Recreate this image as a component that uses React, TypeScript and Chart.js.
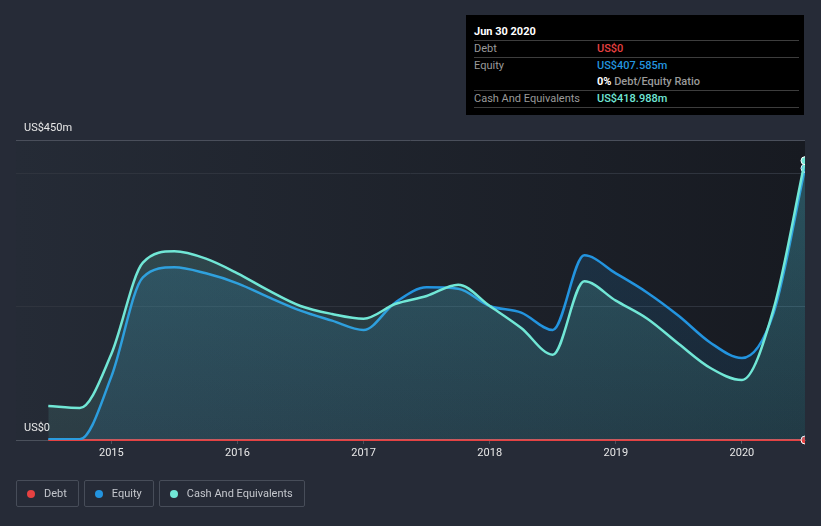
import React, { useEffect, useRef } from 'react';
import { Chart, registerables } from 'chart.js';

Chart.register(...registerables);

// ---- data ----
const dates = [
  2014.5, 2014.75, 2015.0, 2015.25, 2015.5, 2015.75, 2016.0, 2016.25, 2016.5,
  2016.75, 2017.0, 2017.25, 2017.5, 2017.75, 2018.0, 2018.25, 2018.5, 2018.75,
  2019.0, 2019.25, 2019.5, 2019.75, 2020.0, 2020.25, 2020.5,
];
const debt = [0, 0, 0, 0, 0, 0, 0, 0, 0, 0, 0, 0, 0, 0, 0, 0, 0, 0, 0, 0, 0, 0, 0, 0, 0];
const equity = [
  1, 1, 95, 244, 259, 250, 235, 214, 194, 179, 165, 206, 229, 227, 201, 191, 165,
  277, 250, 221, 186, 146, 123, 190, 407.585,
];
const cash = [
  51, 48, 129, 266, 283, 272, 250, 224, 201, 189, 182, 204, 216, 233, 201, 168, 128,
  238, 209, 182, 144, 108, 90, 196, 418.988,
];
const xTickYears = [2015, 2016, 2017, 2018, 2019, 2020];
const yGridValues = [0, 200, 400, 450];
const yLabelValues = [0, 450];
const yLabelTexts = ['US$0', 'US$450m'];
const seriesNames = ['Debt', 'Equity', 'Cash And Equivalents'];
const seriesColors = ['#e64141', '#2394df', '#71e7d6'];
const tooltipTitle = 'Jun 30 2020';
const tooltipValues = ['US$0', 'US$407.585m', 'US$418.988m'];
const ratioValue = '0%';
const ratioText = 'Debt/Equity Ratio';

const FONT = 'Roboto, "Noto Sans", sans-serif';

const toPoints = (vals: number[]) => vals.map((v, i) => ({ x: dates[i], y: v }));

const plotBg = {
  id: 'plotBg',
  beforeDraw(chart: any) {
    const { ctx, chartArea } = chart;
    if (!chartArea) return;
    const g = ctx.createLinearGradient(chartArea.left, 0, chartArea.right, 0);
    g.addColorStop(0, '#252b36');
    g.addColorStop(1, '#171a21');
    ctx.save();
    ctx.fillStyle = g;
    ctx.fillRect(chartArea.left, chartArea.top, chartArea.right - chartArea.left, chartArea.bottom - chartArea.top);
    ctx.restore();
  },
};

function fillGrad(rgb: string, aTop: number, aBottom: number) {
  return (c: any) => {
    const area = c.chart.chartArea;
    if (!area) return `rgba(${rgb},${aTop})`;
    const g = c.chart.ctx.createLinearGradient(0, area.top, 0, area.bottom);
    g.addColorStop(0, `rgba(${rgb},${aTop})`);
    g.addColorStop(1, `rgba(${rgb},${aBottom})`);
    return g;
  };
}

const lastOnly = (r: number) => (c: any) => (c.dataIndex === dates.length - 1 ? r : 0);

export default function App() {
  const ref = useRef<HTMLCanvasElement>(null);

  useEffect(() => {
    if (!ref.current) return;
    const chart = new Chart(ref.current, {
      type: 'line',
      data: {
        datasets: [
          {
            label: seriesNames[2],
            data: toPoints(cash),
            borderColor: seriesColors[2],
            backgroundColor: fillGrad('113,231,214', 0.2, 0.1),
            fill: 'origin',
            borderWidth: 2.5,
            cubicInterpolationMode: 'monotone',
            pointRadius: lastOnly(4),
            pointBackgroundColor: seriesColors[2],
            pointBorderColor: '#ffffff',
            pointBorderWidth: 1,
            order: 1,
          },
          {
            label: seriesNames[1],
            data: toPoints(equity),
            borderColor: seriesColors[1],
            backgroundColor: fillGrad('35,148,223', 0.18, 0.1),
            fill: 'origin',
            borderWidth: 2.5,
            cubicInterpolationMode: 'monotone',
            pointRadius: lastOnly(4),
            pointBackgroundColor: seriesColors[1],
            pointBorderColor: '#ffffff',
            pointBorderWidth: 1,
            order: 2,
          },
          {
            label: seriesNames[0],
            data: toPoints(debt),
            borderColor: seriesColors[0],
            backgroundColor: seriesColors[0],
            fill: false,
            borderWidth: 2,
            pointRadius: lastOnly(4),
            pointBackgroundColor: seriesColors[0],
            pointBorderColor: '#ffffff',
            pointBorderWidth: 1,
            clip: { left: 0, top: 0, right: 0, bottom: 6 },
            order: 3,
          },
        ],
      },
      options: {
        animation: false,
        responsive: false,
        events: [],
        layout: { padding: { left: 16, right: 16, top: 140, bottom: 56 } },
        plugins: { legend: { display: false }, tooltip: { enabled: false } },
        scales: {
          x: {
            type: 'linear',
            min: 2014.244,
            max: 2020.5,
            afterBuildTicks: (s: any) => {
              s.ticks = xTickYears.map((v) => ({ value: v }));
            },
            afterFit: (s: any) => {
              s.height = 30;
            },
            ticks: {
              color: '#e8e8e8',
              font: { family: FONT, size: 11 },
              padding: 3,
              callback: (v: any) => String(v),
              maxRotation: 0,
            },
            grid: { drawOnChartArea: false, drawTicks: true, tickLength: 4, color: '#4b515c' },
            border: { display: true, color: '#4b515c', width: 1 },
          },
          y: {
            type: 'linear',
            min: 0,
            max: 450,
            afterBuildTicks: (s: any) => {
              s.ticks = yGridValues.map((v) => ({ value: v }));
            },
            afterFit: (s: any) => {
              s.width = 0;
            },
            ticks: {
              mirror: true,
              padding: 8,
              labelOffset: -12,
              color: '#e8e8e8',
              font: { family: FONT, size: 11 },
              callback: (v: any) => {
                const i = yLabelValues.indexOf(Number(v));
                return i >= 0 ? yLabelTexts[i] : '';
              },
            },
            grid: {
              drawTicks: false,
              color: (c: any) =>
                c.tick && c.tick.value === 450
                  ? '#4a4f5b'
                  : c.tick && c.tick.value === 0
                  ? 'rgba(0,0,0,0)'
                  : '#2f343e',
            },
            border: { display: false },
          },
        },
      },
      plugins: [plotBg],
    } as any);
    return () => chart.destroy();
  }, []);

  const rowLabel: React.CSSProperties = {
    position: 'absolute',
    left: 8,
    height: 17,
    lineHeight: '17px',
    color: '#9a9a9a',
  };
  const rowValue: React.CSSProperties = {
    position: 'absolute',
    left: 131,
    height: 17,
    lineHeight: '17px',
    fontWeight: 500,
  };
  const sep = (top: number) => (
    <div style={{ position: 'absolute', left: 8, width: 325, top, height: 1, background: '#3d3d3d' }} />
  );

  return (
    <div
      style={{
        position: 'fixed',
        left: 0,
        top: 0,
        width: 821,
        height: 526,
        background: '#262b37',
        fontFamily: FONT,
        fontSize: 11,
        overflow: 'hidden',
      }}
    >
      <canvas ref={ref} width={821} height={526} style={{ position: 'absolute', left: 0, top: 0 }} />
      <div
        style={{
          position: 'absolute',
          left: 466,
          top: 15,
          width: 338,
          height: 100,
          background: '#000000',
        }}
      >
        <div style={{ position: 'absolute', left: 8, top: 10, lineHeight: '14px', color: '#ffffff', fontWeight: 700 }}>
          {tooltipTitle}
        </div>
        {sep(25)}
        <div style={{ ...rowLabel, top: 25 }}>{seriesNames[0]}</div>
        <div style={{ ...rowValue, top: 25, color: seriesColors[0] }}>{tooltipValues[0]}</div>
        {sep(42)}
        <div style={{ ...rowLabel, top: 42 }}>{seriesNames[1]}</div>
        <div style={{ ...rowValue, top: 42, color: seriesColors[1] }}>{tooltipValues[1]}</div>
        <div style={{ ...rowValue, top: 58, color: '#9a9a9a' }}>
          <span style={{ color: '#ffffff', fontWeight: 700 }}>{ratioValue}</span> {ratioText}
        </div>
        {sep(75)}
        <div style={{ ...rowLabel, top: 75 }}>{seriesNames[2]}</div>
        <div style={{ ...rowValue, top: 75, color: seriesColors[2] }}>{tooltipValues[2]}</div>
        {sep(92)}
      </div>
      <div style={{ position: 'absolute', left: 16, top: 480, display: 'flex', gap: 5 }}>
        {seriesNames.map((n, i) => (
          <div
            key={n}
            style={{
              boxSizing: 'border-box',
              height: 27,
              border: '1px solid #474d59',
              borderRadius: 2,
              display: 'flex',
              alignItems: 'center',
              padding: '0 11px 0 10px',
              color: '#c4c7cd',
            }}
          >
            <span
              style={{
                display: 'inline-block',
                width: 8,
                height: 8,
                borderRadius: 4,
                background: seriesColors[i],
                marginRight: 9,
              }}
            />
            {n}
          </div>
        ))}
      </div>
    </div>
  );
}
